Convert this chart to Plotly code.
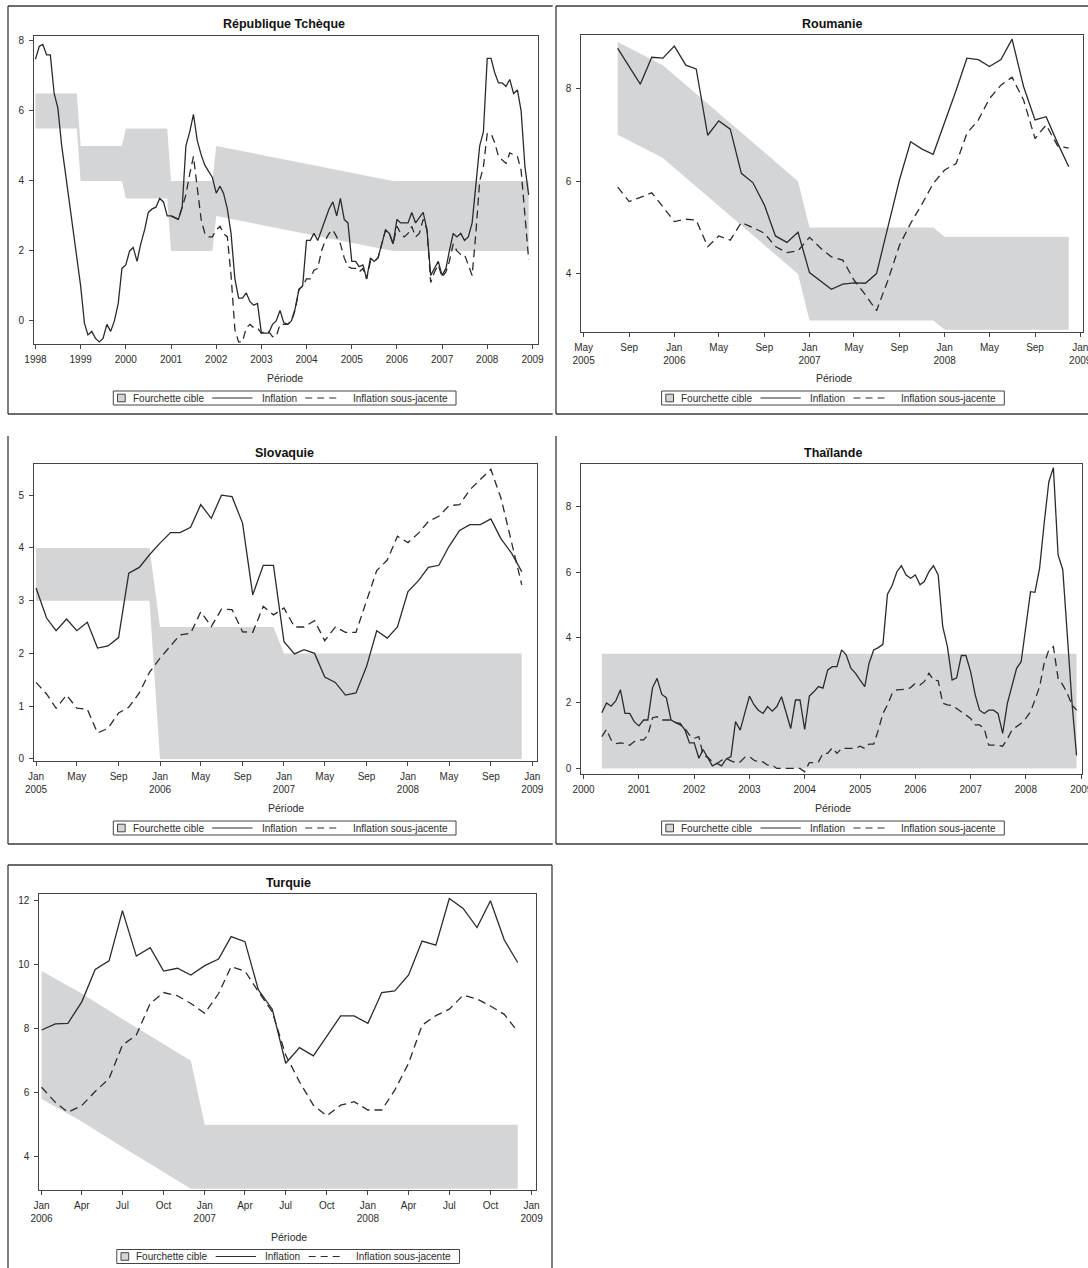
import pandas as pd
import plotly.graph_objects as go

W, H = 1088, 1268
FONT = "Liberation Sans, Arial, sans-serif"
INK = "#2b2b2b"
FRAME = "#444444"
BAND = "#d4d5d7"

# ---------------- République Tchèque (monthly, Jan 1998 - Dec 2008) ----------------
cz_start = "1998-01-01"
cz_inflation = [
    7.48, 7.85, 7.9, 7.6, 7.6, 6.5, 6.08, 5.0, 4.2, 3.45, 2.6, 1.85,
    1.0, -0.07, -0.4, -0.3, -0.5, -0.6, -0.5, -0.1, -0.3, 0.0, 0.5, 1.5,
    1.6, 2.0, 2.1, 1.7, 2.2, 2.6, 3.1, 3.2, 3.25, 3.5, 3.4, 3.0,
    3.0, 2.95, 2.9, 3.25, 5.0, 5.4, 5.9, 5.15, 4.75, 4.45, 4.25, 4.1,
    3.65, 3.85, 3.65, 3.2, 2.5, 1.2, 0.65, 0.65, 0.8, 0.55, 0.45, 0.5,
    -0.35, -0.35, -0.35, -0.1, 0.0, 0.3, -0.05, -0.1, 0.0, 0.35, 0.9, 1.0,
    2.3, 2.3, 2.5, 2.3, 2.6, 2.9, 3.2, 3.4, 3.0, 3.5, 2.9, 2.8,
    1.7, 1.7, 1.55, 1.6, 1.2, 1.8, 1.7, 1.8, 2.2, 2.6, 2.5, 2.2,
    2.9, 2.8, 2.8, 2.8, 3.1, 2.8, 2.95, 3.1, 2.6, 1.3, 1.5, 1.7,
    1.3, 1.5, 2.0, 2.5, 2.4, 2.5, 2.3, 2.4, 2.8, 3.85, 5.0, 5.4,
    7.5, 7.5, 7.1, 6.8, 6.8, 6.7, 6.9, 6.5, 6.6, 6.0, 4.4, 3.6,
]
cz_core_start = "2001-01-01"
cz_core = [
    3.0, 2.95, 2.9, 3.25, 3.6, 4.2, 4.7, 3.8, 2.9, 2.5, 2.4, 2.4,
    2.6, 2.7, 2.5, 2.4, 1.3, -0.25, -0.6, -0.6, -0.2, -0.1, -0.2, -0.2,
    -0.35, -0.3, -0.3, -0.45, -0.45, -0.1, -0.1, -0.1, 0.0, 0.3, 0.9, 1.0,
    1.2, 1.2, 1.45, 1.5, 2.0, 2.3, 2.5, 2.6, 2.4, 2.2, 1.8, 1.55,
    1.5, 1.5, 1.4, 1.5, 1.2, 1.7, 1.7, 1.8, 2.2, 2.6, 2.5, 2.2,
    2.7, 2.5, 2.4, 2.5, 2.7, 2.4, 2.5, 2.9, 2.6, 1.1, 1.4, 1.6,
    1.25, 1.4, 1.7, 2.2, 2.0, 1.9, 1.9, 1.6, 1.3, 2.5, 4.0, 4.4,
    5.35, 5.35, 5.1, 4.7, 4.6, 4.5, 4.8, 4.75, 4.7, 4.3, 3.0, 1.75,
]
cz_band_dates = ["1998-01-01", "1998-12-01", "1999-01-01", "1999-12-01", "2000-01-01",
                 "2000-12-01", "2001-01-01", "2001-12-01", "2002-01-01", "2005-12-01",
                 "2008-12-01"]
cz_band_low = [5.5, 5.5, 4.0, 4.0, 3.5, 3.5, 2.0, 2.0, 3.0, 2.0, 2.0]
cz_band_high = [6.5, 6.5, 5.0, 5.0, 5.5, 5.5, 4.0, 4.0, 5.0, 4.0, 4.0]
cz_xticks = ["%d-01-01" % y for y in range(1998, 2010)]
cz_xlabels = ["1998", "1999", "2000", "2001", "2002", "2003", "2004", "2005",
              "2006", "2007", "2008", "2009"]
cz_yticks = [0, 2, 4, 6, 8]

# ---------------- Roumanie (monthly, Aug 2005 - Dec 2008) ----------------
ro_start = "2005-08-01"
ro_inflation = [
    8.86, 8.47, 8.09, 8.67, 8.65,
    8.91, 8.5, 8.42, 6.99, 7.3, 7.12, 6.17, 5.97, 5.49, 4.82, 4.68, 4.9,
    4.03, 3.85, 3.67, 3.78, 3.81, 3.8, 4.01, 5.02, 6.03, 6.85, 6.69, 6.58,
    7.25, 7.96, 8.65, 8.62, 8.47, 8.62, 9.06, 8.04, 7.32, 7.39, 6.82, 6.31,
]
ro_core = [
    5.87, 5.56, 5.65, 5.75, 5.45,
    5.13, 5.18, 5.16, 4.59, 4.82, 4.73, 5.11, 5.0, 4.88, 4.59, 4.46, 4.5,
    4.79, 4.55, 4.37, 4.3, 3.87, 3.55, 3.21, 3.87, 4.62, 5.09, 5.51, 5.95,
    6.24, 6.38, 7.03, 7.32, 7.78, 8.07, 8.24, 7.75, 6.92, 7.21, 6.76, 6.71,
]
ro_band_dates = ["2005-08-01", "2005-12-01", "2006-12-01", "2007-01-01",
                 "2007-12-01", "2008-01-01", "2008-12-01"]
ro_band_low = [7.0, 6.5, 4.0, 3.0, 3.0, 2.8, 2.8]
ro_band_high = [9.0, 8.5, 6.0, 5.0, 5.0, 4.8, 4.8]
ro_xticks = ["2005-05-01", "2005-09-01", "2006-01-01", "2006-05-01", "2006-09-01",
             "2007-01-01", "2007-05-01", "2007-09-01", "2008-01-01", "2008-05-01",
             "2008-09-01", "2009-01-01"]
ro_xlabels = ["May<br>2005", "Sep", "Jan<br>2006", "May", "Sep", "Jan<br>2007",
              "May", "Sep", "Jan<br>2008", "May", "Sep", "Jan<br>2009"]
ro_yticks = [4, 6, 8]

# ---------------- Slovaquie (monthly, Jan 2005 - Dec 2008) ----------------
sk_start = "2005-01-01"
sk_inflation = [
    3.24, 2.67, 2.43, 2.65, 2.43, 2.59, 2.1, 2.14, 2.3, 3.52, 3.63, 3.87,
    4.09, 4.29, 4.29, 4.39, 4.82, 4.56, 5.0, 4.97, 4.47, 3.11, 3.67, 3.67,
    2.22, 1.99, 2.07, 2.0, 1.55, 1.45, 1.21, 1.25, 1.75, 2.43, 2.29, 2.5,
    3.17, 3.38, 3.63, 3.67, 4.03, 4.33, 4.44, 4.44, 4.55, 4.17, 3.9, 3.55,
]
sk_core = [
    1.45, 1.23, 0.96, 1.21, 0.96, 0.94, 0.49, 0.58, 0.87, 0.98, 1.25, 1.64,
    1.91, 2.14, 2.35, 2.38, 2.79, 2.51, 2.84, 2.83, 2.41, 2.4, 2.89, 2.73,
    2.86, 2.5, 2.5, 2.62, 2.24, 2.5, 2.4, 2.4, 2.98, 3.57, 3.77, 4.22,
    4.1, 4.28, 4.5, 4.6, 4.8, 4.82, 5.1, 5.29, 5.49, 4.94, 4.09, 3.3,
]
sk_band_dates = ["2005-01-01", "2005-12-01", "2006-01-01", "2006-12-01",
                 "2007-01-01", "2008-12-01"]
sk_band_low = [3.0, 3.0, 0.0, 0.0, 0.0, 0.0]
sk_band_high = [4.0, 4.0, 2.5, 2.5, 2.0, 2.0]
sk_xticks = ["2005-01-01", "2005-05-01", "2005-09-01", "2006-01-01", "2006-05-01",
             "2006-09-01", "2007-01-01", "2007-05-01", "2007-09-01", "2008-01-01",
             "2008-05-01", "2008-09-01", "2009-01-01"]
sk_xlabels = ["Jan<br>2005", "May", "Sep", "Jan<br>2006", "May", "Sep", "Jan<br>2007",
              "May", "Sep", "Jan<br>2008", "May", "Sep", "Jan<br>2009"]
sk_yticks = [0, 1, 2, 3, 4, 5]

# ---------------- Thaïlande (monthly, May 2000 - Dec 2008) ----------------
th_start = "2000-05-01"
th_inflation = [
    1.7, 2.0, 1.9, 2.06, 2.4, 1.68, 1.68, 1.43, 1.3, 1.48,
    1.48, 2.47, 2.75, 2.26, 2.16, 1.48, 1.4, 1.38, 1.17, 0.78,
    0.78, 0.31, 0.58, 0.31, 0.08, 0.15, 0.08, 0.29, 0.36, 1.43,
    1.17, 1.68, 2.21, 1.94, 1.78, 1.68, 1.89, 1.75, 1.89, 2.19,
    1.73, 1.22, 2.09, 2.09, 1.19, 2.21, 2.34, 2.5, 2.45, 3.01,
    3.11, 3.11, 3.62, 3.47, 3.06, 2.91, 2.7, 2.5, 3.21, 3.62,
    3.69, 3.79, 5.32, 5.59, 6.01, 6.19, 5.91, 5.81, 5.91, 5.61,
    5.71, 6.01, 6.19, 5.91, 4.33, 3.72, 2.7, 2.77, 3.45, 3.45,
    2.96, 2.24, 1.78, 1.68, 1.78, 1.78, 1.68, 1.07, 1.99, 2.55,
    3.06, 3.26, 4.33, 5.4, 5.38, 6.12, 7.49, 8.76, 9.19, 6.52,
    6.07, 4.0, 2.0, 0.4,
]
th_core = [
    0.97, 1.19, 0.87, 0.76, 0.78, 0.76, 0.71, 0.82, 0.87, 0.87,
    1.02, 1.55, 1.58, 1.48, 1.48, 1.48, 1.4, 1.33, 1.22, 1.02,
    0.92, 0.97, 0.41, 0.34, 0.2, 0.15, 0.25, 0.31, 0.23, 0.18,
    0.2, 0.34, 0.36, 0.25, 0.2, 0.2, 0.1, 0.1, 0.0, 0.0,
    0.0, 0.0, 0.02, 0.0, -0.1, 0.18, 0.18, 0.2, 0.46, 0.46,
    0.63, 0.46, 0.61, 0.61, 0.61, 0.61, 0.68, 0.61, 0.74, 0.74,
    1.17, 1.68, 1.94, 2.29, 2.4, 2.4, 2.42, 2.47, 2.6, 2.55,
    2.65, 2.91, 2.7, 2.68, 1.99, 1.94, 1.92, 1.83, 1.73, 1.63,
    1.53, 1.33, 1.33, 1.22, 0.71, 0.71, 0.71, 0.68, 0.9, 1.17,
    1.27, 1.38, 1.53, 1.73, 2.09, 2.5, 3.21, 3.62, 3.72, 2.75,
    2.55, 2.29, 1.94, 1.78,
]
th_band_dates = ["2000-05-01", "2008-12-01"]
th_band_low = [0.0, 0.0]
th_band_high = [3.5, 3.5]
th_xticks = ["%d-01-01" % y for y in range(2000, 2010)]
th_xlabels = ["2000", "2001", "2002", "2003", "2004", "2005", "2006", "2007",
              "2008", "2009"]
th_yticks = [0, 2, 4, 6, 8]

# ---------------- Turquie (monthly, Jan 2006 - Dec 2008) ----------------
tr_start = "2006-01-01"
tr_inflation = [
    7.96, 8.15, 8.17, 8.84, 9.85, 10.12, 11.69, 10.27, 10.53, 9.8, 9.89, 9.68,
    9.97, 10.18, 10.88, 10.72, 9.21, 8.61, 6.92, 7.41, 7.15, 7.75, 8.4, 8.4,
    8.17, 9.13, 9.18, 9.68, 10.74, 10.61, 12.07, 11.76, 11.16, 12.0, 10.77, 10.07,
]
tr_core = [
    6.17, 5.7, 5.39, 5.6, 6.04, 6.44, 7.49, 7.8, 8.79, 9.13, 9.03, 8.79,
    8.48, 9.1, 9.94, 9.8, 9.16, 8.53, 7.18, 6.34, 5.61, 5.28, 5.61, 5.72,
    5.46, 5.46, 6.08, 6.92, 8.11, 8.41, 8.61, 9.05, 8.93, 8.71, 8.45, 7.91,
]
tr_band_dates = ["2006-01-01", "2006-04-01", "2006-07-01", "2006-12-01",
                 "2007-01-01", "2008-12-01"]
tr_band_low = [5.8, 5.1, 4.3, 3.0, 3.0, 3.0]
tr_band_high = [9.8, 9.1, 8.3, 7.0, 5.0, 5.0]
tr_xticks = ["2006-01-01", "2006-04-01", "2006-07-01", "2006-10-01", "2007-01-01",
             "2007-04-01", "2007-07-01", "2007-10-01", "2008-01-01", "2008-04-01",
             "2008-07-01", "2008-10-01", "2009-01-01"]
tr_xlabels = ["Jan<br>2006", "Apr", "Jul", "Oct", "Jan<br>2007", "Apr", "Jul", "Oct",
              "Jan<br>2008", "Apr", "Jul", "Oct", "Jan<br>2009"]
tr_yticks = [4, 6, 8, 10, 12]

legend_labels = ["Fourchette cible", "Inflation", "Inflation sous-jacente"]
axis_title = "Période"


def months(start, n):
    return pd.date_range(start, periods=n, freq="MS").strftime("%Y-%m-%d").tolist()


def px(x):
    return x / W


def py(y):
    return 1 - y / H


# Plot areas are given in pixels: (left, top, right, bottom)
panels = [
    dict(title="République Tchèque", area=(34.0, 35.7, 537.7, 344.0),
         xrange=["1997-12-20", "2009-02-12"], yrange=[-0.66, 8.15],
         xticks=cz_xticks, xlabels=cz_xlabels, yticks=cz_yticks,
         infl=(cz_start, cz_inflation), core=(cz_core_start, cz_core),
         band=(cz_band_dates, cz_band_low, cz_band_high),
         title_at=(284, 24), xtitle_at=(285, 378), legend_at=(113.3, 398)),
    dict(title="Roumanie", area=(581.4, 35.0, 1082.8, 332.0),
         xrange=["2005-04-25", "2009-01-08"], yrange=[2.75, 9.15],
         xticks=ro_xticks, xlabels=ro_xlabels, yticks=ro_yticks,
         infl=(ro_start, ro_inflation), core=(ro_start, ro_core),
         band=(ro_band_dates, ro_band_low, ro_band_high),
         title_at=(832, 24), xtitle_at=(834, 378), legend_at=(661.6, 398)),
    dict(title="Slovaquie", area=(34.0, 464.0, 536.7, 761.0),
         xrange=["2004-12-26", "2009-01-14"], yrange=[-0.04, 5.59],
         xticks=sk_xticks, xlabels=sk_xlabels, yticks=sk_yticks,
         infl=(sk_start, sk_inflation), core=(sk_start, sk_core),
         band=(sk_band_dates, sk_band_low, sk_band_high),
         title_at=(284, 453), xtitle_at=(286, 808), legend_at=(113.3, 828)),
    dict(title="Thaïlande", area=(581.4, 464.0, 1081.7, 774.0),
         xrange=["1999-12-18", "2009-01-04"], yrange=[-0.17, 9.3],
         xticks=th_xticks, xlabels=th_xlabels, yticks=th_yticks,
         infl=(th_start, th_inflation), core=(th_start, th_core),
         band=(th_band_dates, th_band_low, th_band_high),
         title_at=(833, 453), xtitle_at=(833, 808), legend_at=(661.6, 828)),
    dict(title="Turquie", area=(39.3, 894.0, 535.6, 1190.0),
         xrange=["2005-12-27", "2009-01-10"], yrange=[2.96, 12.21],
         xticks=tr_xticks, xlabels=tr_xlabels, yticks=tr_yticks,
         infl=(tr_start, tr_inflation), core=(tr_start, tr_core),
         band=(tr_band_dates, tr_band_low, tr_band_high),
         title_at=(288, 883), xtitle_at=(289, 1237), legend_at=(116.8, 1256.5)),
]

fig = go.Figure()
layout = dict(
    template="none",
    width=W, height=H, margin=dict(l=0, r=0, t=0, b=0, pad=0, autoexpand=False),
    paper_bgcolor="white", plot_bgcolor="white", showlegend=False,
    font=dict(family=FONT, color=INK, size=10),
)
shapes = []
annotations = []

for i, p in enumerate(panels, start=1):
    xa = "x" if i == 1 else "x%d" % i
    ya = "y" if i == 1 else "y%d" % i
    x0, y0, x1, y1 = p["area"]

    # target band as a closed polygon: upper edge forward, lower edge back
    bd, blo, bhi = p["band"]
    fig.add_trace(go.Scatter(
        x=bd + bd[::-1], y=bhi + blo[::-1], fill="toself", fillcolor=BAND,
        mode="lines", line=dict(width=0, color=BAND), hoverinfo="skip",
        xaxis=xa, yaxis=ya))
    s, v = p["infl"]
    fig.add_trace(go.Scatter(
        x=months(s, len(v)), y=v, mode="lines",
        line=dict(color=INK, width=1.3), xaxis=xa, yaxis=ya))
    s, v = p["core"]
    fig.add_trace(go.Scatter(
        x=months(s, len(v)), y=v, mode="lines",
        line=dict(color=INK, width=1.3, dash="8px,5px"), xaxis=xa, yaxis=ya))

    axis_common = dict(
        showline=True, linecolor=FRAME, linewidth=1, mirror=True,
        ticks="outside", ticklen=4, tickcolor=FRAME, tickwidth=1,
        showgrid=False, zeroline=False, automargin=False,
        tickfont=dict(family=FONT, size=10, color=INK),
    )
    layout["xaxis" if i == 1 else "xaxis%d" % i] = dict(
        axis_common, domain=[px(x0), px(x1)], anchor=ya, type="date",
        range=p["xrange"], tickmode="array", tickvals=p["xticks"],
        ticktext=p["xlabels"], ticklabeloverflow="allow", ticklabelstandoff=2)
    layout["yaxis" if i == 1 else "yaxis%d" % i] = dict(
        axis_common, domain=[py(y1), py(y0)], anchor=xa,
        range=p["yrange"], tickmode="array", tickvals=p["yticks"],
        ticktext=[str(t) for t in p["yticks"]], ticklabelstandoff=3)

    tx, ty = p["title_at"]
    annotations.append(dict(
        text="<b>%s</b>" % p["title"], x=px(tx), y=py(ty), xref="paper", yref="paper",
        xanchor="center", yanchor="middle", showarrow=False,
        font=dict(family=FONT, size=12.5, color="#111111")))
    ax_, ay_ = p["xtitle_at"]
    annotations.append(dict(
        text=axis_title, x=px(ax_), y=py(ay_), xref="paper", yref="paper",
        xanchor="center", yanchor="middle", showarrow=False,
        font=dict(family=FONT, size=10.5, color=INK)))

    # legend box with its three keys
    lx, lc = p["legend_at"]
    shapes.append(dict(type="rect", xref="paper", yref="paper",
                       x0=px(lx), x1=px(lx + 342.7), y0=py(lc + 7), y1=py(lc - 7),
                       line=dict(color=FRAME, width=1), fillcolor="white"))
    shapes.append(dict(type="rect", xref="paper", yref="paper",
                       x0=px(lx + 4.2), x1=px(lx + 11.9), y0=py(lc + 3.8), y1=py(lc - 3.8),
                       line=dict(color=FRAME, width=1), fillcolor=BAND))
    shapes.append(dict(type="line", xref="paper", yref="paper",
                       x0=px(lx + 98.9), x1=px(lx + 139.2), y0=py(lc), y1=py(lc),
                       line=dict(color=INK, width=1.1)))
    shapes.append(dict(type="line", xref="paper", yref="paper",
                       x0=px(lx + 191.9), x1=px(lx + 226.9), y0=py(lc), y1=py(lc),
                       line=dict(color=INK, width=1.1, dash="7px,5px")))
    for off, lab in zip([17.2, 146.3, 237.5], legend_labels):
        annotations.append(dict(
            text=lab, x=px(lx + off), y=py(lc), xref="paper", yref="paper",
            xanchor="left", yanchor="middle", showarrow=False,
            font=dict(family=FONT, size=10, color=INK)))

# outer panel frames
BORDER = dict(color="#3a3a3a", width=1.3)
border_segments = [
    (8, 6, 552.7, 6), (8, 6, 8, 414), (8, 414, 552.7, 414),
    (556, 6, 1088, 6), (556, 6, 556, 414), (556, 414, 1088, 414),
    (8, 436, 8, 844), (8, 844, 552.7, 844),
    (556, 436, 556, 844), (556, 844, 1088, 844),
    (8, 865, 552, 865), (8, 865, 8, 1268), (552, 865, 552, 1268),
]
for a, b, c, d in border_segments:
    shapes.append(dict(type="line", xref="paper", yref="paper",
                       x0=px(a), y0=py(b), x1=px(c), y1=py(d), line=BORDER))

layout["shapes"] = shapes
layout["annotations"] = annotations
fig.update_layout(**layout)
fig.write_html("out.html")
